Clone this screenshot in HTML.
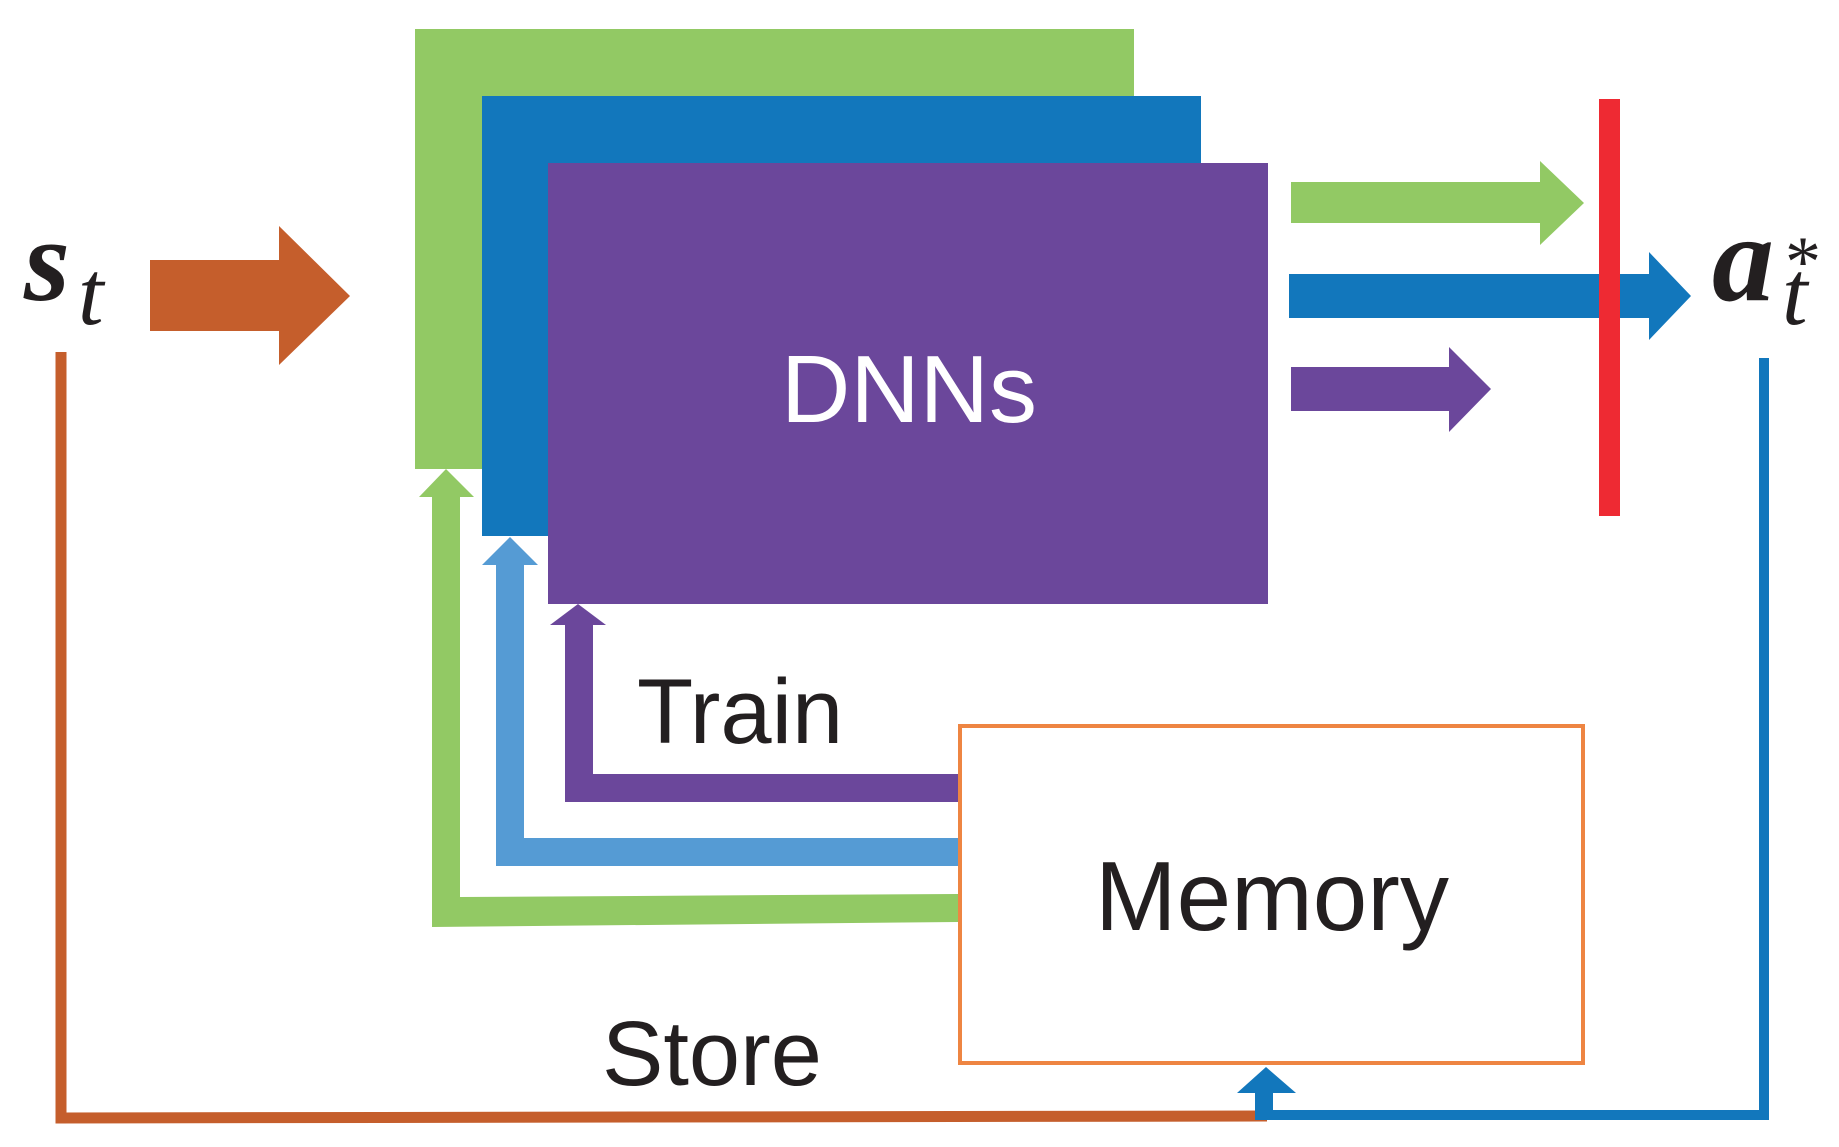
<!DOCTYPE html>
<html><head><meta charset="utf-8"><style>
html,body{margin:0;padding:0;background:#fff}
svg{display:block}
.s{font-family:"Liberation Sans",sans-serif}
.m{font-family:"Liberation Serif",serif}
</style></head><body>
<svg width="1839" height="1147" viewBox="0 0 1839 1147" xmlns="http://www.w3.org/2000/svg">
<rect x="415" y="29" width="719" height="440" fill="#92C964"/>
<rect x="482" y="96" width="719" height="440" fill="#1277BC"/>
<rect x="548" y="163" width="720" height="441" fill="#6B479B"/>
<text class="s" x="909" y="422" font-size="96" fill="#fff" text-anchor="middle">DNNs</text>
<polygon points="150,260 279,260 279,226 350,296 279,365 279,331 150,331" fill="#C55E2C"/>
<text class="m" x="24" y="300" font-size="118" font-weight="bold" font-style="italic" fill="#231F20">s</text>
<text class="m" x="78" y="324" font-size="92" font-style="italic" fill="#231F20">t</text>
<polygon points="1291,182 1540,182 1540,161 1584,203 1540,245 1540,223 1291,223" fill="#92C964"/>
<polygon points="1289,274 1649,274 1649,252 1691,296 1649,340 1649,318 1289,318" fill="#1277BC"/>
<polygon points="1291,367 1449,367 1449,347 1491,389 1449,432 1449,411 1291,411" fill="#6B479B"/>
<rect x="1599" y="99" width="21" height="417" fill="#EE2A33"/>
<text class="m" x="1712" y="300" font-size="124" font-weight="bold" font-style="italic" fill="#231F20">a</text>
<text class="m" x="1782" y="324" font-size="92" font-style="italic" fill="#231F20">t</text>
<text class="m" x="1785" y="286" font-size="72" fill="#231F20">*</text>
<polyline points="61,352 61,1118 1267,1116" fill="none" stroke="#C55E2C" stroke-width="11"/>
<polyline points="1764,358 1764,1115 1264,1115" fill="none" stroke="#1277BC" stroke-width="10"/>
<rect x="1255" y="1091" width="18" height="29" fill="#1277BC"/>
<polygon points="1237,1093 1266,1067 1296,1093" fill="#1277BC"/>
<rect x="960" y="726" width="623" height="337" fill="#fff" stroke="#EE8542" stroke-width="4"/>
<text class="s" x="1272" y="930" font-size="98" fill="#231F20" text-anchor="middle">Memory</text>
<polyline points="579,622 579,788 958,788" fill="none" stroke="#6B479B" stroke-width="28"/>
<polygon points="550,625 578,604 606,625" fill="#6B479B"/>
<polyline points="510,562 510,852 958,852" fill="none" stroke="#559BD4" stroke-width="28"/>
<polygon points="482,565 510,537 538,565" fill="#559BD4"/>
<polygon points="432,495 460,495 460,897 958,894 958,922 432,927" fill="#92C964"/>
<polygon points="419,497 446,469 474,497" fill="#92C964"/>
<text class="s" x="637" y="743" font-size="92" fill="#231F20">Train</text>
<text class="s" x="602" y="1085" font-size="92" fill="#231F20">Store</text>
</svg>
</body></html>
